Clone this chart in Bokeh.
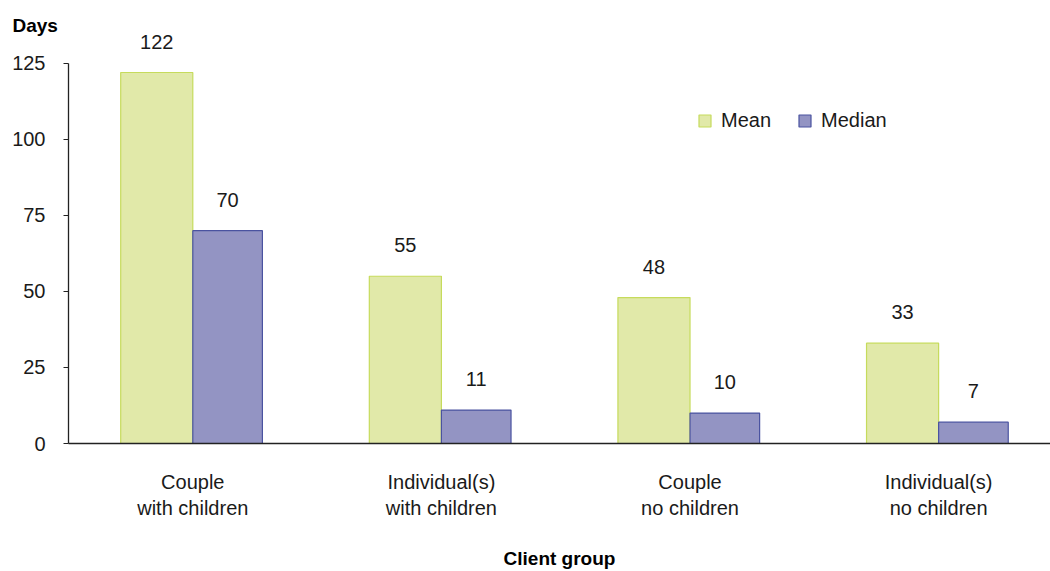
from bokeh.plotting import figure
from bokeh.models import (Range1d, FixedTicker, ColumnDataSource, Legend, LegendItem)
from bokeh.core.properties import value
from bokeh.embed import file_html
from bokeh.resources import INLINE

# ---- data ----
categories = ["Couple\nwith children", "Individual(s)\nwith children", "Couple\nno children", "Individual(s)\nno children"]
mean_days = [122, 55, 48, 33]
median_days = [70, 11, 10, 7]
y_ticks = [0, 25, 50, 75, 100, 125]

FONT = "Liberation Sans"
FS = "20px"
MEAN_FILL = "#e1e9a9"
MEAN_LINE = "#c6db5c"
MED_FILL = "#9394c3"
MED_LINE = "#4a53a0"

centers = [i + 0.5 for i in range(len(categories))]
BW = 0.29

p = figure(width=1050, height=571, output_backend="svg", toolbar_location=None,
           x_range=Range1d(0, 3.95), y_range=Range1d(0, 139.1),
           min_border_left=68, min_border_right=0, min_border_top=20, min_border_bottom=128)
p.outline_line_color = None
p.xgrid.visible = False
p.ygrid.visible = False

p.title.text = "Days"
p.title.align = "left"
p.title.offset = -56
p.title.standoff = -30
p.title.text_font = FONT
p.title.text_font_style = "bold"
p.title.text_font_size = "19px"
p.title.text_color = "#000000"

mean_src = ColumnDataSource(dict(x=[c - BW / 2 for c in centers], top=mean_days,
                                 lbl=[str(v) for v in mean_days]))
med_src = ColumnDataSource(dict(x=[c + BW / 2 - 0.005 for c in centers], top=median_days,
                                lbl=[str(v) for v in median_days]))

r_mean = p.vbar(x="x", top="top", width=BW, bottom=0, source=mean_src,
                fill_color=MEAN_FILL, line_color=MEAN_LINE, line_width=1.2)
r_med = p.vbar(x="x", top="top", width=BW - 0.01, bottom=0, source=med_src,
               fill_color=MED_FILL, line_color=MED_LINE, line_width=1.2)

for src in (mean_src, med_src):
    p.text(x="x", y="top", text="lbl", source=src, text_align="center",
           text_baseline="alphabetic", y_offset=-31, text_font=value(FONT),
           text_font_size=FS, text_color="#1a1a1a")

# axes
xa = p.xaxis[0]
xa.ticker = FixedTicker(ticks=centers)
xa.major_label_overrides = {c: lab for c, lab in zip(centers, categories)}
xa.major_tick_line_color = None
xa.minor_tick_line_color = None
xa.major_label_standoff = 21
xa.major_label_text_font = FONT
xa.major_label_text_font_size = FS
xa.major_label_text_color = "#1a1a1a"
xa.axis_line_color = "#222222"
xa.axis_line_width = 1.3
xa.axis_label = "Client group"
xa.axis_label_text_font = FONT
xa.axis_label_text_font_style = "bold"
xa.axis_label_text_font_size = "19px"
xa.axis_label_text_color = "#000000"
xa.axis_label_standoff = 26

ya = p.yaxis[0]
ya.ticker = FixedTicker(ticks=y_ticks)
ya.bounds = (0, 125)
ya.minor_tick_line_color = None
ya.major_tick_in = 0
ya.major_tick_out = 5
ya.major_tick_line_color = "#222222"
ya.axis_line_color = "#222222"
ya.axis_line_width = 1.3
ya.major_label_standoff = 18
ya.major_label_text_font = FONT
ya.major_label_text_font_size = FS
ya.major_label_text_color = "#1a1a1a"

legend = Legend(items=[LegendItem(label="Mean", renderers=[r_mean]),
                       LegendItem(label="Median", renderers=[r_med])],
                orientation="horizontal", location=(629, 311),
                border_line_color=None, background_fill_alpha=0,
                padding=0, margin=0, spacing=26, label_standoff=9,
                glyph_width=15, glyph_height=15,
                label_text_font=FONT, label_text_font_size=FS, label_text_color="#1a1a1a")
p.add_layout(legend)

open("out.html", "w").write(file_html(p, INLINE))
